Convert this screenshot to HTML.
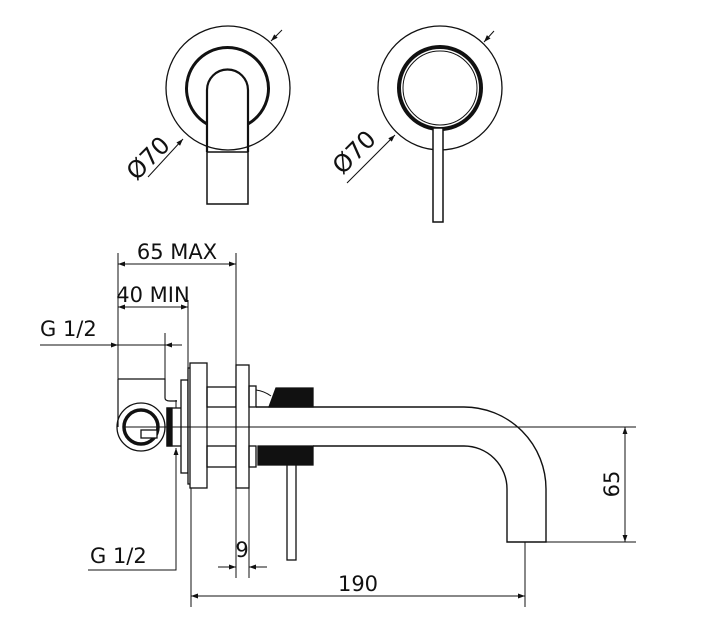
<!DOCTYPE html>
<html><head><style>
body{margin:0;background:#fff;}
svg{display:block;}
text{font-family:"DejaVu Sans","Liberation Sans",sans-serif;fill:#111;}
</style></head><body>
<svg width="723" height="627" viewBox="0 0 723 627" xmlns="http://www.w3.org/2000/svg">
<defs>
<marker id="a" viewBox="0 0 10 10" refX="10" refY="5" markerWidth="9" markerHeight="7" orient="auto-start-reverse" markerUnits="userSpaceOnUse"><path d="M0,1.5 L10,5 L0,8.5 z" fill="#111"/></marker>
</defs>
<g fill="none" stroke="#111" stroke-width="1.3">
<circle cx="228" cy="88" r="62"/>
<path d="M207,124 A41,41 0 1 1 248,124" stroke-width="3"/>
<path d="M207,152 L207,90 A20.5,20.5 0 0 1 248,90 L248,152" stroke-width="2.2"/>
<rect x="207" y="152" width="41" height="52" stroke-width="1.5"/>
<line x1="148" y1="177" x2="183" y2="139" stroke-width="1" marker-end="url(#a)"/>
<line x1="282" y1="30" x2="271" y2="41" stroke-width="1" marker-end="url(#a)"/>
<circle cx="440" cy="88" r="62"/>
<circle cx="440" cy="88" r="41" stroke-width="4"/>
<circle cx="440" cy="88" r="37" stroke-width="1"/>
<rect x="433" y="128" width="10" height="94" fill="#fff" stroke-width="1.5"/>
<line x1="347" y1="183" x2="395" y2="135" stroke-width="1" marker-end="url(#a)"/>
<line x1="494" y1="31" x2="484" y2="42" stroke-width="1" marker-end="url(#a)"/>

<line x1="118" y1="253" x2="118" y2="379" stroke-width="1"/>
<line x1="236" y1="253" x2="236" y2="578" stroke-width="1"/>
<line x1="118" y1="264" x2="236" y2="264" stroke-width="1" marker-start="url(#a)" marker-end="url(#a)"/>
<line x1="188" y1="300" x2="188" y2="383" stroke-width="1"/>
<line x1="118" y1="307" x2="188" y2="307" stroke-width="1" marker-start="url(#a)" marker-end="url(#a)"/>
<line x1="40" y1="345" x2="118" y2="345" stroke-width="1" marker-end="url(#a)"/>
<line x1="118" y1="345" x2="182" y2="345" stroke-width="1"/>
<line x1="182" y1="345" x2="165" y2="345" stroke-width="1" marker-end="url(#a)"/>
<line x1="165" y1="333" x2="165" y2="379" stroke-width="1"/>

<path d="M118,379 L118,427 M118,379 L165,379 L165,398 Q165,401 170,401 L177,401" stroke-width="1.2"/>
<circle cx="141" cy="427" r="24"/>
<circle cx="141" cy="427" r="17" stroke-width="3.5"/>
<rect x="141" y="430" width="16" height="8" fill="#fff" stroke-width="1.3"/>
<line x1="176" y1="400" x2="176" y2="440" stroke-width="1"/>
<rect x="167" y="408" width="19" height="38" fill="#fff"/>
<rect x="167" y="408" width="5" height="38" fill="#111"/>
<rect x="181" y="380" width="7" height="93" fill="#fff"/>
<rect x="188" y="368" width="3" height="116" fill="#fff"/>
<rect x="190" y="363" width="17" height="125" fill="#fff"/>
<rect x="207" y="387" width="29" height="20"/>
<rect x="207" y="446" width="29" height="21"/>
<rect x="236" y="365" width="13" height="123" fill="#fff"/>
<line x1="249" y1="488" x2="249" y2="578" stroke-width="1"/>
<line x1="191" y1="488" x2="191" y2="607" stroke-width="1"/>
<rect x="249" y="386" width="7" height="21"/>
<rect x="249" y="446" width="7" height="21"/>
<path d="M256,390 Q264,391 271,396" stroke-width="1"/>
<path d="M269,407 L276,388 L313,388 L313,407 Z" fill="#111"/>
<rect x="258" y="446" width="55" height="19" fill="#111"/>
<rect x="287" y="465" width="9" height="95" fill="#fff" stroke-width="1.3"/>
<path d="M256,407 L464,407 A82,82 0 0 1 546,489 L546,542 L507,542 L507,489 A43,43 0 0 0 464,446 L313,446" stroke-width="1.4"/>
<line x1="125" y1="427" x2="636" y2="427" stroke-width="1"/>
<line x1="546" y1="542" x2="636" y2="542" stroke-width="1"/>
<line x1="625" y1="427" x2="625" y2="542" stroke-width="1" marker-start="url(#a)" marker-end="url(#a)"/>
<line x1="525" y1="542" x2="525" y2="607" stroke-width="1"/>
<line x1="191" y1="596" x2="525" y2="596" stroke-width="1" marker-start="url(#a)" marker-end="url(#a)"/>
<polyline points="88,570 176,570 176,448" stroke-width="1"/>
<line x1="176" y1="460" x2="176" y2="448" stroke-width="1" marker-end="url(#a)"/>
<line x1="218" y1="567" x2="236" y2="567" stroke-width="1" marker-end="url(#a)"/>
<line x1="267" y1="567" x2="249" y2="567" stroke-width="1" marker-end="url(#a)"/>
</g>
<text x="177" y="259" font-size="21" text-anchor="middle">65 MAX</text>
<text x="153" y="302" font-size="21" text-anchor="middle">40 MIN</text>
<text x="40" y="336" font-size="21">G 1/2</text>
<text x="90" y="563" font-size="21">G 1/2</text>
<text x="242" y="557" font-size="21" text-anchor="middle">9</text>
<text x="358" y="591" font-size="21" text-anchor="middle">190</text>
<text transform="translate(619,484) rotate(-90)" font-size="21" text-anchor="middle">65</text>
<text transform="translate(154,164) rotate(-45)" font-size="24" text-anchor="middle">Ø70</text>
<text transform="translate(360,158) rotate(-45)" font-size="24" text-anchor="middle">Ø70</text>
</svg>
</body></html>
